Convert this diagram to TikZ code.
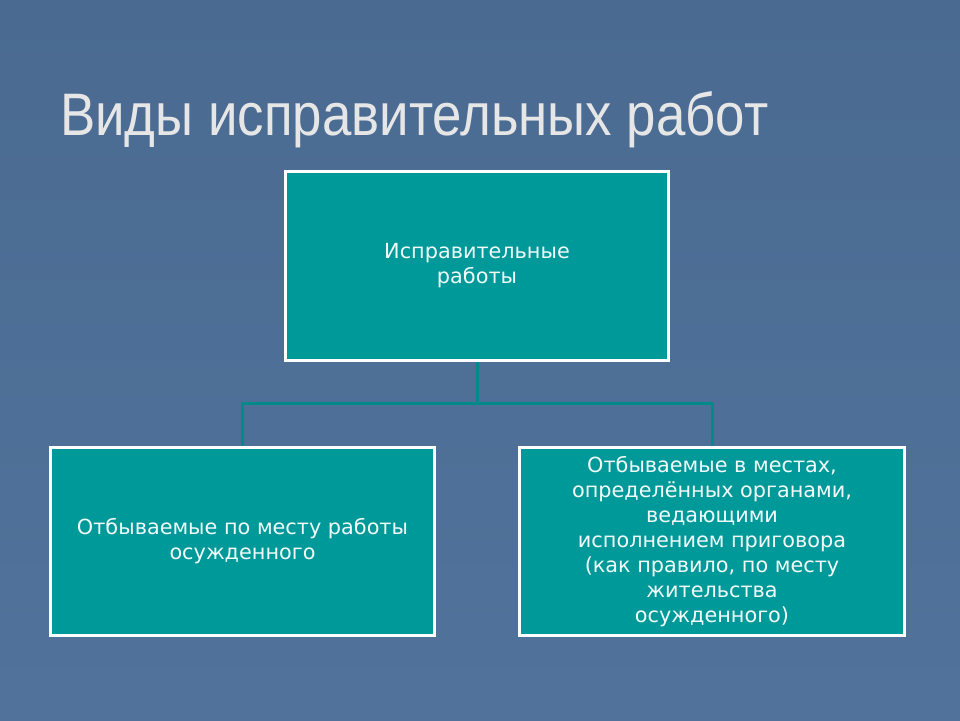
\documentclass[tikz,border=0pt]{standalone}
\usepackage{fontspec}
\setmainfont{DejaVu Sans}
\newfontfamily\titlefont[FakeStretch=0.88]{Liberation Sans}
\definecolor{bgtop}{HTML}{4A6A91}
\definecolor{bgbot}{HTML}{51739B}
\definecolor{boxfill}{HTML}{009999}
\definecolor{linkcol}{HTML}{008A8A}
\definecolor{titlecol}{HTML}{E6E6E6}
\definecolor{boxtext}{HTML}{F2FAFA}
\tikzset{
  box/.style={draw=white, line width=3pt, fill=boxfill, text=boxtext,
    align=center, inner sep=2pt, font=\fontsize{20.8}{25}\selectfont},
  link/.style={draw=linkcol, line width=3pt}
}
\begin{document}
\begin{tikzpicture}[x=1pt,y=-1pt]
\useasboundingbox (0,0) rectangle (960,720);
\shade[top color=bgtop, bottom color=bgbot] (0,0) rectangle (960,720);
\node[anchor=base west, text=titlecol, font=\titlefont\fontsize{60}{60}\selectfont, inner sep=0pt] (title) at (60,135) {Виды исправительных работ};
\coordinate (mid) at (477,403);
\node[box, minimum width=383pt, minimum height=189pt] (top) at (477,266) {Исправительные\\ работы};
\node[box, minimum width=384pt, minimum height=188pt] (left) at (242.5,541.5) {Отбываемые по месту работы\\осужденного};
\node[box, minimum width=385pt, minimum height=188pt] (right) at (712,541.5) {Отбываемые в местах,\\определённых органами,\\ведающими\\исполнением приговора\\(как правило, по месту\\жительства\\осужденного)};
\draw[link] (top.south) -- (mid);
\draw[link] (left.north) |- (mid) -| (right.north);
\end{tikzpicture}
\end{document}
